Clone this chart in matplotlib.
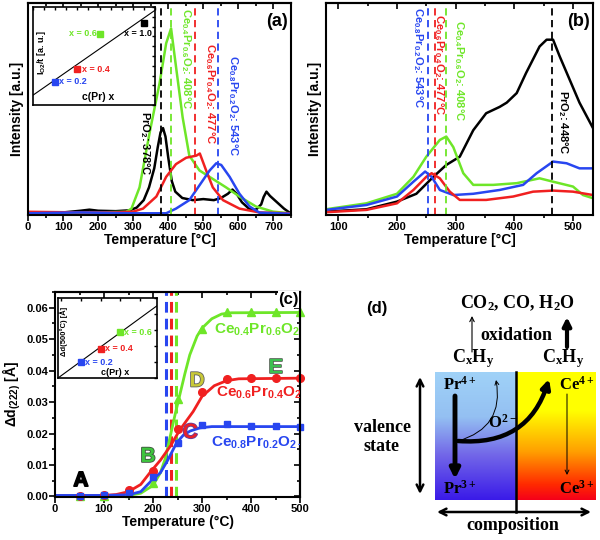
import numpy as np
import matplotlib
matplotlib.use('Agg')
import matplotlib.pyplot as plt
from matplotlib.colors import LinearSegmentedColormap
from matplotlib.patches import FancyArrowPatch
import matplotlib.patheffects as pe

plt.rcParams['font.family'] = ['Liberation Sans', 'DejaVu Sans']
plt.rcParams['font.weight'] = 'bold'
plt.rcParams['axes.labelweight'] = 'bold'
plt.rcParams['mathtext.default'] = 'regular'
plt.rcParams['axes.linewidth'] = 1.5

GREEN = '#6ee628'
RED = '#f02020'
BLUE = '#2846f0'
BLACK = 'black'

# ---- panel (a): O2 desorption, intensity normalised to axis height
a_black_T = [0, 100, 150, 175, 200, 250, 290, 310, 330, 345, 360, 370, 378, 385, 392, 400, 410, 420, 440, 470,
             500, 530, 550, 570, 583, 595, 610, 630, 650, 665, 672, 680, 690, 710, 730, 745]
a_black_I = [0.012, 0.012, 0.02, 0.025, 0.02, 0.018, 0.022, 0.035, 0.07, 0.13, 0.22, 0.32, 0.39, 0.41, 0.37, 0.27,
             0.16, 0.11, 0.08, 0.07, 0.075, 0.07, 0.08, 0.1, 0.12, 0.1, 0.06, 0.03, 0.025, 0.05, 0.085, 0.11, 0.09,
             0.06, 0.03, 0.012]
a_green_T = [0, 150, 200, 280, 295, 318, 347, 375, 394, 408, 422, 441, 460, 489, 527, 565, 603, 650, 698, 745]
a_green_I = [0.008, 0.01, 0.012, 0.015, 0.03, 0.13, 0.39, 0.62, 0.81, 0.88, 0.70, 0.46, 0.28, 0.21, 0.17, 0.13,
             0.087, 0.04, 0.016, 0.008]
a_red_T = [0, 150, 250, 300, 328, 366, 394, 422, 451, 480, 490, 508, 527, 556, 603, 660, 745]
a_red_I = [0.015, 0.012, 0.012, 0.016, 0.03, 0.087, 0.18, 0.24, 0.27, 0.28, 0.29, 0.21, 0.13, 0.07, 0.03, 0.012, 0.008]
a_blue_T = [0, 150, 300, 394, 422, 460, 489, 518, 537, 551, 575, 603, 632, 660, 745]
a_blue_I = [0.008, 0.012, 0.008, 0.008, 0.03, 0.07, 0.14, 0.21, 0.244, 0.236, 0.18, 0.10, 0.04, 0.011, 0.006]
a_peaks = [378, 408, 477, 543]

# inset (a)
ins_a_x = [0.2, 0.4, 0.6, 1.0]
ins_a_y = [0.237, 0.366, 0.729, 0.84]
ins_a_line_x = [0.0, 1.1]
ins_a_line_y = [0.10, 0.966]

# ---- panel (b)
b_black_T = [79, 148, 200, 233, 262, 284, 307, 330, 352, 375, 387, 404, 420, 443, 455, 466, 477, 494, 511, 534]
b_black_I = [0.016, 0.027, 0.063, 0.10, 0.18, 0.236, 0.275, 0.40, 0.48, 0.51, 0.53, 0.575, 0.67, 0.795, 0.827,
             0.827, 0.75, 0.64, 0.53, 0.41]
b_green_T = [79, 148, 200, 228, 250, 273, 284, 296, 313, 330, 364, 404, 443, 466, 500, 517, 534]
b_green_I = [0.027, 0.055, 0.10, 0.18, 0.275, 0.354, 0.37, 0.32, 0.197, 0.142, 0.142, 0.15, 0.173, 0.157, 0.134,
             0.094, 0.079]
b_blue_T = [79, 148, 200, 228, 248, 259, 273, 296, 330, 375, 415, 438, 466, 489, 511, 534]
b_blue_I = [0.024, 0.047, 0.087, 0.157, 0.205, 0.18, 0.118, 0.094, 0.10, 0.118, 0.142, 0.197, 0.252, 0.244, 0.22,
            0.22]
b_red_T = [79, 148, 200, 228, 250, 259, 273, 290, 307, 352, 398, 432, 466, 500, 534]
b_red_I = [0.013, 0.024, 0.055, 0.118, 0.18, 0.197, 0.173, 0.11, 0.071, 0.071, 0.087, 0.11, 0.115, 0.11, 0.094]
b_peaks = [465, 284, 265, 253]

# ---- panel (c): lattice expansion
c_T = [50, 100, 150, 200, 250, 300, 350, 400, 450, 500]
c_green = [0.0, 0.0002, 0.001, 0.0044, 0.031, 0.0531, 0.0586, 0.0587, 0.0587, 0.0587]
c_red = [0.0, 0.0005, 0.002, 0.0082, 0.0215, 0.0333, 0.0373, 0.0375, 0.0375, 0.0375]
c_blue = [0.0, 0.0005, 0.001, 0.0062, 0.0171, 0.0228, 0.0229, 0.0223, 0.0223, 0.0222]
fit_green_T = [0, 100, 150, 175, 200, 215, 225, 235, 245, 255, 265, 275, 290, 300, 320, 340, 360, 500]
fit_green = [0.0002, 0.0002, 0.0003, 0.001, 0.0035, 0.0075, 0.012, 0.019, 0.026, 0.0325, 0.039, 0.045, 0.051,
             0.0535, 0.0565, 0.058, 0.0584, 0.0585]
fit_red_T = [0, 100, 125, 150, 175, 195, 215, 235, 255, 282, 300, 325, 350, 375, 500]
fit_red = [0.0002, 0.0003, 0.0006, 0.0015, 0.0038, 0.0078, 0.0115, 0.0159, 0.0212, 0.027, 0.0318, 0.0352, 0.0368,
           0.0374, 0.0376]
fit_blue_T = [0, 100, 150, 175, 200, 215, 230, 248, 262, 276, 296, 320, 500]
fit_blue = [0.0003, 0.0003, 0.0005, 0.0015, 0.0055, 0.0075, 0.0115, 0.017, 0.0195, 0.0208, 0.0218, 0.0222, 0.0222]
c_lines = [226, 236, 247]

ins_c_x = [0.2, 0.4, 0.6]
ins_c_y = [0.2, 0.367, 0.575]
ins_c_line_x = [-0.03, 0.97]
ins_c_line_y = [0.0, 0.904]

fig = plt.figure(figsize=(6, 5.4), dpi=100)


def top_ticks(ax, step, minor):
    sec = ax.secondary_xaxis('top')
    sec.set_xticks(np.arange(0, 800, step))
    sec.xaxis.set_minor_locator(matplotlib.ticker.MultipleLocator(minor))
    sec.tick_params(which='both', direction='in', labeltop=False, width=1.2)
    sec.tick_params(which='major', length=4)
    sec.tick_params(which='minor', length=2)


# ================= (a)
ax = fig.add_axes([0.0467, 0.6019, 0.4383, 0.3925])
for T, I, c in [(a_black_T, a_black_I, BLACK), (a_green_T, a_green_I, GREEN),
                (a_red_T, a_red_I, RED), (a_blue_T, a_blue_I, BLUE)]:
    ax.plot(T, I, color=c, lw=1.8)
for T, c in zip(a_peaks, [BLACK, GREEN, RED, BLUE]):
    ax.axvline(T, color=c, ls=(0, (4, 2.5)), lw=1.3)
ax.set_xlim(0, 750)
ax.set_ylim(0, 1)
ax.set_yticks([])
ax.set_xticks(range(0, 800, 100))
ax.xaxis.set_minor_locator(matplotlib.ticker.MultipleLocator(50))
ax.tick_params(axis='x', which='both', direction='out', labelsize=8, width=1.2)
ax.tick_params(axis='x', which='major', length=4, pad=1)
ax.tick_params(axis='x', which='minor', length=2)
top_ticks(ax, 100, 50)
ax.set_xlabel('Temperature [°C]', fontsize=10, labelpad=1)
ax.set_ylabel('Intensity [a.u.]', fontsize=10, labelpad=3)
ax.text(0.99, 0.955, '(a)', transform=ax.transAxes, ha='right', va='top', fontsize=13)
ax.text(432, 0.976, 'Ce$_{0.4}$Pr$_{0.6}$O$_2$: 408°C', color=GREEN, rotation=-90, ha='left', va='top', fontsize=8)
ax.text(499, 0.81, 'Ce$_{0.6}$Pr$_{0.4}$O$_2$: 477°C', color=RED, rotation=-90, ha='left', va='top', fontsize=8)
ax.text(565, 0.756, 'Ce$_{0.8}$Pr$_{0.2}$O$_2$: 543°C', color=BLUE, rotation=-90, ha='left', va='top', fontsize=8)
ax.text(313, 0.49, 'PrO$_2$: 378°C', color=BLACK, rotation=-90, ha='left', va='top', fontsize=8)

ia = fig.add_axes([0.055, 0.8056, 0.2033, 0.1815])
ia.plot(ins_a_line_x, ins_a_line_y, color='black', lw=0.8)
for x, y, c in zip(ins_a_x, ins_a_y, [BLUE, RED, GREEN, BLACK]):
    ia.plot(x, y, 's', color=c, ms=4.5)
ia.set_xlim(0, 1.1)
ia.set_ylim(0, 1)
ia.set_xticks(np.arange(0, 1.11, 0.1))
ia.set_yticks(np.arange(0, 1.01, 0.1))
ia.tick_params(direction='in', length=2, top=True, right=True, bottom=False, left=False,
               labelbottom=False, labelleft=False, width=1)
for s in ia.spines.values():
    s.set_linewidth(1.2)
ia.text(0.235, 0.237, 'x = 0.2', color=BLUE, fontsize=6.5, va='center')
ia.text(0.445, 0.366, 'x = 0.4', color=RED, fontsize=6.5, va='center')
ia.text(0.58, 0.729, 'x = 0.6', color=GREEN, fontsize=6.5, va='center', ha='right')
ia.text(0.95, 0.73, 'x = 1.0', color=BLACK, fontsize=6.5, va='center', ha='center')
ia.text(0.53, 0.08, 'c(Pr) x', transform=ia.transAxes, fontsize=7.5, ha='center', va='center')
ia.text(0.07, 0.53, 'I$_{O2}$/t [a. u.]', transform=ia.transAxes, fontsize=6.5, ha='center', va='center',
        rotation=90)

# ================= (b)
ax = fig.add_axes([0.5433, 0.6019, 0.445, 0.3925])
for T, I, c in [(b_black_T, b_black_I, BLACK), (b_green_T, b_green_I, GREEN),
                (b_blue_T, b_blue_I, BLUE), (b_red_T, b_red_I, RED)]:
    ax.plot(T, I, color=c, lw=1.8)
for T, c in zip(b_peaks, [BLACK, GREEN, RED, BLUE]):
    ax.axvline(T, color=c, ls=(0, (4, 2.5)), lw=1.3)
ax.set_xlim(79, 534)
ax.set_ylim(0, 1)
ax.set_yticks([])
ax.set_xticks(range(100, 600, 100))
ax.xaxis.set_minor_locator(matplotlib.ticker.MultipleLocator(50))
ax.tick_params(axis='x', which='both', direction='out', labelsize=8, width=1.2)
ax.tick_params(axis='x', which='major', length=4, pad=1)
ax.tick_params(axis='x', which='minor', length=2)
top_ticks(ax, 100, 50)
ax.set_xlabel('Temperature [°C]', fontsize=10, labelpad=1)
ax.set_ylabel('Intensity [a.u.]', fontsize=10, labelpad=3)
ax.text(0.99, 0.955, '(b)', transform=ax.transAxes, ha='right', va='top', fontsize=13)
ax.text(224, 0.98, 'Ce$_{0.8}$Pr$_{0.2}$O$_2$: 543°C', color=BLUE, rotation=-90, ha='left', va='top', fontsize=8)
ax.text(259, 0.95, 'Ce$_{0.6}$Pr$_{0.4}$O$_2$: 477°C', color=RED, rotation=-90, ha='left', va='top', fontsize=8)
ax.text(293, 0.92, 'Ce$_{0.4}$Pr$_{0.6}$O$_2$: 408°C', color=GREEN, rotation=-90, ha='left', va='top', fontsize=8)
ax.text(471, 0.59, 'PrO$_2$: 448°C', color=BLACK, rotation=-90, ha='left', va='top', fontsize=8)

# ================= (c)
ax = fig.add_axes([0.0917, 0.0796, 0.4083, 0.3796])
for T, c in zip(c_lines, [BLUE, RED, GREEN]):
    ax.axvline(T, color=c, ls=(0, (3.5, 2)), lw=2.2)
ax.plot(fit_green_T, fit_green, color=GREEN, lw=2)
ax.plot(fit_red_T, fit_red, color=RED, lw=2)
ax.plot(fit_blue_T, fit_blue, color=BLUE, lw=2)
ax.plot(c_T, c_green, '^', color=GREEN, ms=5.5, clip_on=False)
ax.plot(c_T, c_red, 'o', color=RED, ms=5.5, clip_on=False)
ax.plot(c_T, c_blue, 's', color=BLUE, ms=5, clip_on=False)
ax.set_xlim(0, 500)
ax.set_ylim(-0.0002, 0.065)
ax.set_xticks(range(0, 600, 100))
ax.set_yticks(np.arange(0, 0.061, 0.01))
ax.set_yticklabels(['%.2f' % v for v in np.arange(0, 0.061, 0.01)])
ax.xaxis.set_minor_locator(matplotlib.ticker.MultipleLocator(50))
ax.yaxis.set_minor_locator(matplotlib.ticker.MultipleLocator(0.005))
ax.tick_params(which='both', direction='out', labelsize=8, width=1.2)
ax.tick_params(which='major', length=4, pad=1)
ax.tick_params(which='minor', length=2)
top_ticks(ax, 100, 50)
sec = ax.secondary_yaxis('right')
sec.set_yticks(np.arange(0, 0.061, 0.01))
sec.yaxis.set_minor_locator(matplotlib.ticker.MultipleLocator(0.005))
sec.tick_params(which='both', direction='in', labelright=False, width=1.2)
sec.tick_params(which='major', length=4)
sec.tick_params(which='minor', length=2)
ax.set_xlabel('Temperature (°C)', fontsize=10, labelpad=1)
ax.set_ylabel('Δd$_{(222)}$ [Å]', fontsize=10, labelpad=2)
ax.text(0.995, 1.0, '(c)', transform=ax.transAxes, ha='right', va='top', fontsize=12,
        bbox=dict(facecolor='white', edgecolor='none', pad=0.5))
ax.text(325, 0.0518, 'Ce$_{0.4}$Pr$_{0.6}$O$_{2-δ}$', color=GREEN, fontsize=11, clip_on=True)
ax.text(329, 0.0317, 'Ce$_{0.6}$Pr$_{0.4}$O$_{2-δ}$', color=RED, fontsize=11, clip_on=True)
ax.text(318, 0.0159, 'Ce$_{0.8}$Pr$_{0.2}$O$_{2-δ}$', color=BLUE, fontsize=11, clip_on=True)
letters = ['A', 'B', 'C', 'D', 'E']
letter_T = [53, 190, 276, 290, 451]
letter_v = [0.005, 0.0127, 0.0203, 0.0367, 0.041]
letter_fill = ['black', '#3ec43e', '#e8202a', '#c8c838', '#3cc050']
letter_edge = ['black', '#405040', '#6040a0', '#606060', '#506050']
for s, T, v, f, e in zip(letters, letter_T, letter_v, letter_fill, letter_edge):
    t = ax.text(T, v, s, color=f, fontsize=15, ha='center', va='center')
    t.set_path_effects([pe.Stroke(linewidth=1.2, foreground=e), pe.Normal()])

ic = fig.add_axes([0.0967, 0.3, 0.165, 0.148])
ic.plot(ins_c_line_x, ins_c_line_y, color='black', lw=0.8)
for x, y, c in zip(ins_c_x, ins_c_y, [BLUE, RED, GREEN]):
    ic.plot(x, y, 's', color=c, ms=4)
ic.set_xlim(-0.03, 0.97)
ic.set_ylim(0, 1)
ic.set_xticks(np.arange(0, 1.0, 0.2))
ic.set_yticks(np.arange(0, 1.01, 0.2))
ic.tick_params(direction='in', length=2, top=True, right=True, bottom=False, left=False,
               labelbottom=False, labelleft=False, width=1)
for s in ic.spines.values():
    s.set_linewidth(1.2)
ic.text(0.24, 0.2, 'x = 0.2', color=BLUE, fontsize=6.5, va='center', clip_on=True)
ic.text(0.44, 0.367, 'x = 0.4', color=RED, fontsize=6.5, va='center', clip_on=True)
ic.text(0.64, 0.575, 'x = 0.6', color=GREEN, fontsize=6.5, va='center', clip_on=True)
ic.text(0.58, 0.07, 'c(Pr) x', transform=ic.transAxes, fontsize=6.5, ha='center', va='center')
ic.text(0.06, 0.58, 'Δd(500°C) [Å]', transform=ic.transAxes, fontsize=5.5, ha='center', va='center',
        rotation=90)

# ================= (d) schematic
ax = fig.add_axes([0.5, 0.0, 0.5, 0.5])
ax.set_xlim(300, 600)
ax.set_ylim(540, 270)
ax.axis('off')
grad = np.linspace(0, 1, 256).reshape(-1, 1)
cm_pr = LinearSegmentedColormap.from_list('pr', [(0, '#a0d2f8'), (0.35, '#94c0f2'), (0.65, '#7266e8'),
                                                 (1, '#3a1ae8')])
cm_ce = LinearSegmentedColormap.from_list('ce', [(0, '#ffff00'), (0.3, '#ffff00'), (0.62, '#ffa000'),
                                                 (0.88, '#ff2a00'), (1, '#f5001a')])
ax.imshow(grad, cmap=cm_pr, extent=[435, 516, 500, 372], origin='upper', aspect='auto')
ax.imshow(grad, cmap=cm_ce, extent=[516, 596, 500, 372], origin='upper', aspect='auto')
ax.set_xlim(300, 600)
ax.set_ylim(540, 270)
ax.plot([516, 516], [372, 512], color='black', lw=1.8)

serif = dict(family=['Liberation Serif', 'DejaVu Serif'], weight='bold')


def arrow(p0, p1, style, lw, ms, rad=0.0):
    ax.add_patch(FancyArrowPatch(p0, p1, arrowstyle=style, lw=lw, mutation_scale=ms, color='black',
                                 connectionstyle='arc3,rad=%s' % rad, shrinkA=0, shrinkB=0))


arrow((472, 352), (472, 316), '->', 0.8, 8)
arrow((567, 347), (567, 317), '-|>', 3, 12)
arrow((420, 377), (420, 494), '<->', 1.8, 12)
arrow((437, 512), (591, 512), '<->', 1.8, 12)
arrow((455, 396), (455, 479), '-|>', 3.5, 14)
arrow((567, 394), (567, 475), '->', 0.7, 7)
arrow((458, 441), (549, 379), '-|>', 3.2, 13, rad=0.4)
arrow((458, 441), (496, 380), '->', 0.7, 7, rad=0.45)

ax.text(377, 309, '(d)', fontsize=12, ha='center', va='center')
ax.text(517, 303, 'CO$_2$, CO, H$_2$O', fontsize=13, ha='center', va='center', **serif)
ax.text(516, 335, 'oxidation', fontsize=13, ha='center', va='center', **serif)
ax.text(473, 359, 'C$_x$H$_y$', fontsize=13, ha='center', va='center', **serif)
ax.text(563, 359, 'C$_x$H$_y$', fontsize=13, ha='center', va='center', **serif)
ax.text(460, 385, 'Pr$^{4+}$', fontsize=12, ha='center', va='center', **serif)
ax.text(460, 489, 'Pr$^{3+}$', fontsize=12, ha='center', va='center', **serif)
ax.text(577, 385, 'Ce$^{4+}$', fontsize=12, ha='center', va='center', **serif)
ax.text(577, 489, 'Ce$^{3+}$', fontsize=12, ha='center', va='center', **serif)
ax.text(503, 423, 'O$^{2-}$', fontsize=12, ha='center', va='center', **serif)
ax.text(382, 437, 'valence\nstate', fontsize=13, ha='center', va='center', linespacing=1.1, **serif)
ax.text(513, 526, 'composition', fontsize=13, ha='center', va='center', **serif)

fig.savefig('out.png', dpi=100)
